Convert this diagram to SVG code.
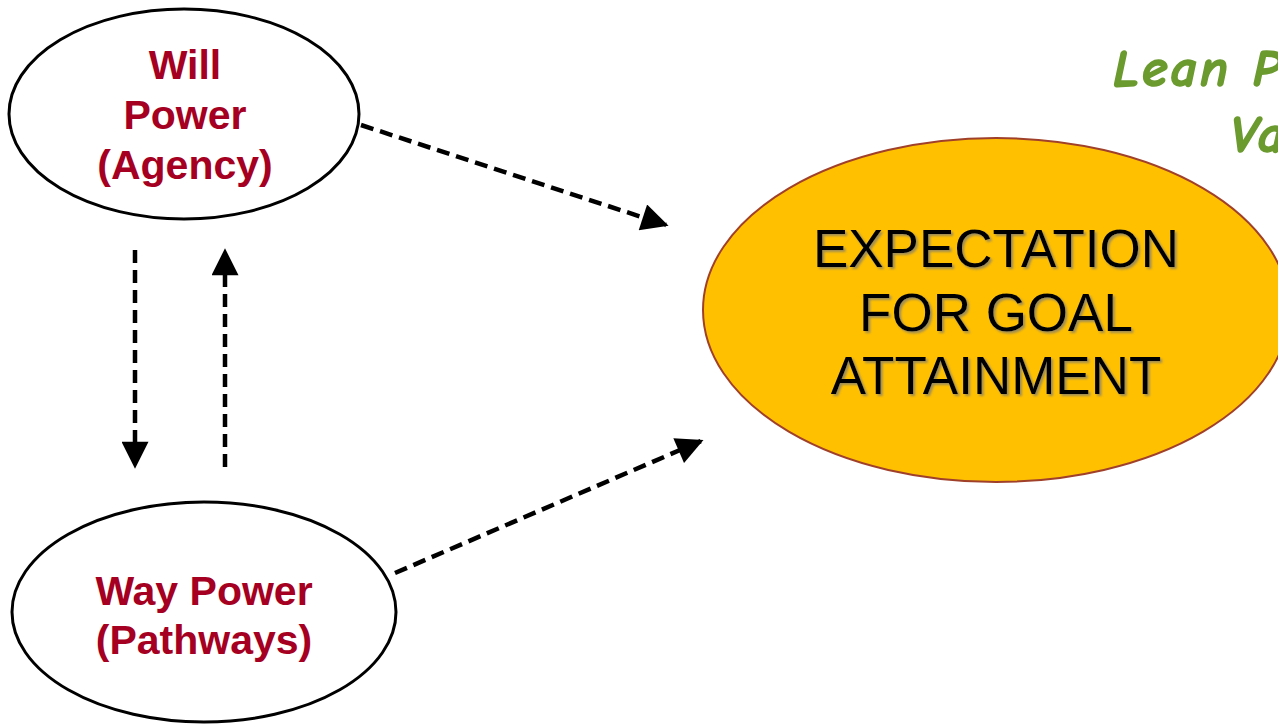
<svg xmlns="http://www.w3.org/2000/svg" width="1278" height="725" viewBox="0 0 1278 725">
<defs>
<style>
.node{fill:#fff;stroke:#000;stroke-width:3}
.lbl{font-family:"Liberation Sans",Arial,sans-serif;font-weight:bold;font-size:41px;fill:#A50021;text-anchor:middle}
.big{font-family:"Liberation Sans",Arial,sans-serif;font-size:53px;fill:#000;text-anchor:middle}
.conn{stroke:#000;stroke-width:4.5;stroke-dasharray:13 7;fill:none}
.note{font-family:"Comic Sans MS","Comic Neue","DejaVu Sans",sans-serif;font-weight:bold;font-style:italic;font-size:52px;letter-spacing:3px;fill:#6B9A2F;stroke:#6B9A2F;stroke-width:1.5}
</style>
<marker id="ah" viewBox="0 0 10 10" refX="9" refY="5" markerWidth="6.5" markerHeight="6" markerUnits="strokeWidth" orient="auto">
<path d="M0,0 L10,5 L0,10 Z" fill="#000"/>
</marker>
<filter id="sh" x="-10%" y="-10%" width="120%" height="120%">
<feDropShadow dx="2" dy="2" stdDeviation="1" flood-color="#777" flood-opacity="0.7"/>
</filter>
</defs>
<rect width="1278" height="725" fill="#fff"/>
<g id="note">
<text class="note" x="1113" y="86">Lean P</text>
<text class="note" x="1230" y="152">Va</text>
</g>
<g id="connectors">
<line class="conn" x1="361" y1="125" x2="666" y2="225" marker-end="url(#ah)"/>
<line class="conn" x1="395" y1="573" x2="701" y2="441" marker-end="url(#ah)"/>
<line class="conn" x1="135" y1="250" x2="135" y2="466" marker-end="url(#ah)"/>
<line class="conn" x1="225" y1="467" x2="225" y2="251" marker-end="url(#ah)"/>
</g>
<g id="will">
<ellipse class="node" cx="184" cy="114" rx="175" ry="105"/>
<text class="lbl" x="185" y="79">Will</text>
<text class="lbl" x="185" y="129">Power</text>
<text class="lbl" x="185" y="179">(Agency)</text>
</g>
<g id="way">
<ellipse class="node" cx="204" cy="612" rx="192" ry="110"/>
<text class="lbl" x="204" y="605">Way Power</text>
<text class="lbl" x="204" y="654">(Pathways)</text>
</g>
<g id="expectation">
<ellipse cx="996" cy="310" rx="293" ry="172" fill="#FFC000" stroke="#A0402A" stroke-width="2"/>
<g filter="url(#sh)">
<text class="big" x="996" y="267">EXPECTATION</text>
<text class="big" x="996" y="331">FOR GOAL</text>
<text class="big" x="996" y="394">ATTAINMENT</text>
</g>
</g>
</svg>
